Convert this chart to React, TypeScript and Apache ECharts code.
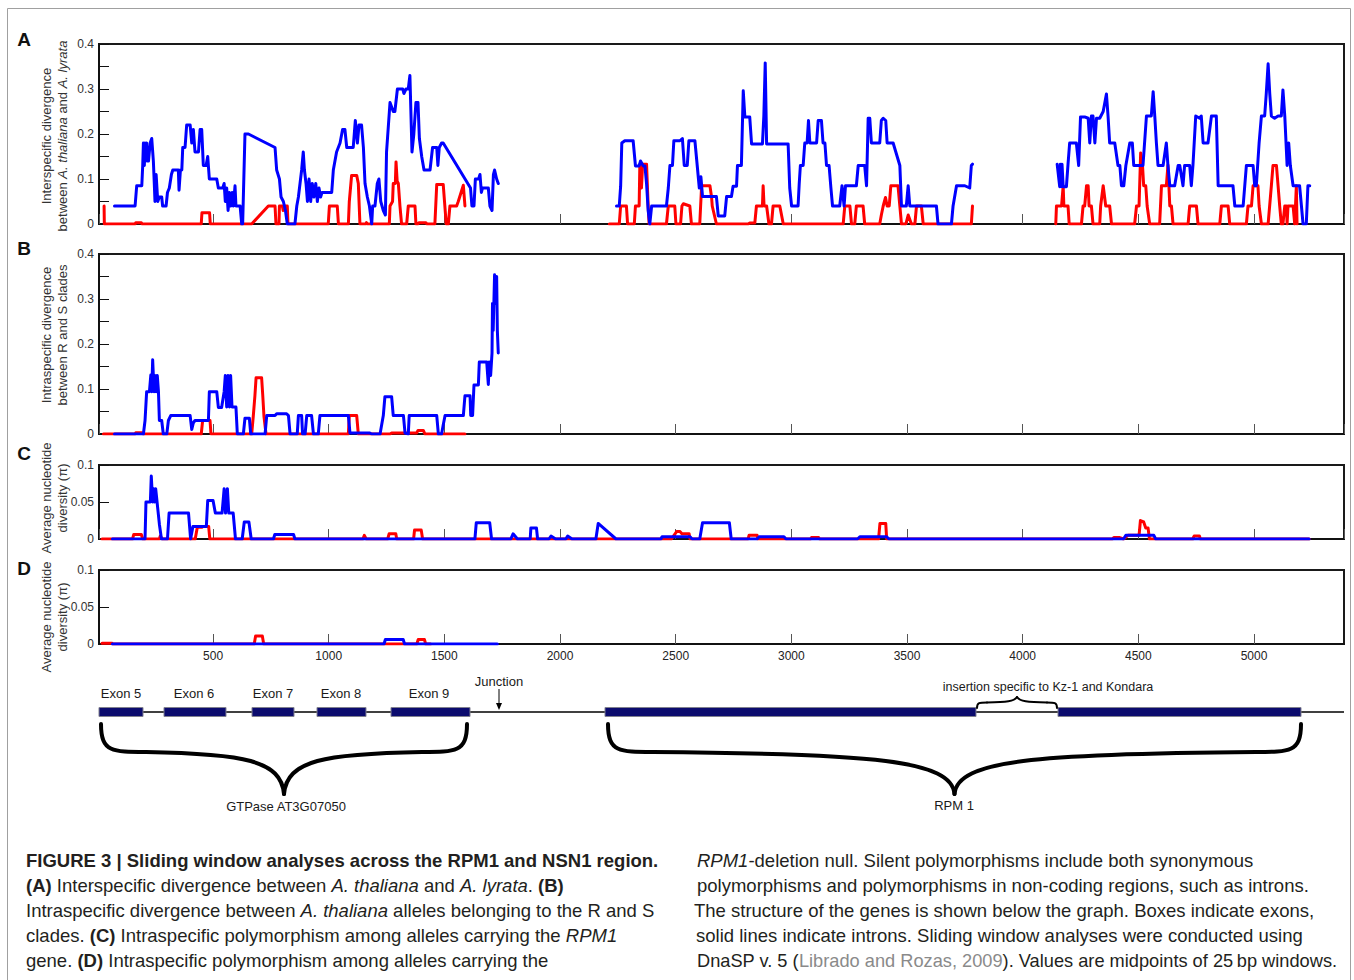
import React, { useEffect, useRef } from "react";
import * as echarts from "echarts";

// ---------- DATA ----------
const X_MIN = 7;
const X_MAX = 5389;
const xTickLabels = [500, 1000, 1500, 2000, 2500, 3000, 3500, 4000, 4500, 5000];
const yTickLabelsTall = ["0", "0.1", "0.2", "0.3", "0.4"];
const yTickLabelsShort = ["0", "0.05", "0.1"];

// Panel A: interspecific divergence (blue) and red series, three sequenced stretches
const aBlue1 = [[74,0.04],[163,0.04],[170,0.085],[192,0.085],[196,0.13],[199,0.18],[203,0.13],[206,0.18],[210,0.14],[213,0.18],[216,0.14],[221,0.14],[228,0.18],[235,0.19],[242,0.14],[246,0.09],[249,0.05],[254,0.11],[261,0.05],[268,0.06],[278,0.06],[282,0.04],[297,0.04],[303,0.07],[311,0.08],[320,0.11],[326,0.12],[350,0.12],[353,0.075],[359,0.12],[365,0.12],[369,0.17],[379,0.17],[386,0.22],[401,0.22],[408,0.18],[415,0.21],[422,0.16],[437,0.16],[444,0.21],[451,0.21],[458,0.13],[470,0.13],[477,0.15],[484,0.1],[516,0.1],[523,0.08],[542,0.08],[548,0.09],[553,0.05],[559,0.08],[565,0.03],[571,0.07],[576,0.04],[583,0.07],[588,0.04],[595,0.085],[599,0.04],[617,0.04],[624,0],[628,0],[638,0.2],[653,0.2],[768,0.17],[775,0.12],[787,0.1],[794,0.06],[804,0.05],[813,0.03],[821,0],[854,0],[862,0.04],[869,0.06],[876,0.09],[883,0.12],[890,0.16],[895,0.12],[902,0.09],[908,0.05],[915,0.1],[922,0.05],[929,0.09],[936,0.06],[944,0.09],[951,0.05],[958,0.08],[965,0.06],[971,0.07],[1013,0.07],[1020,0.12],[1034,0.16],[1049,0.18],[1060,0.21],[1070,0.21],[1078,0.17],[1106,0.17],[1115,0.23],[1124,0.18],[1131,0.22],[1142,0.22],[1150,0.17],[1157,0.09],[1167,0.06],[1176,0.04],[1181,0.02],[1186,0],[1190,0.04],[1200,0.04],[1210,0.09],[1217,0.1],[1225,0.05],[1236,0.03],[1245,0.02],[1250,0.16],[1265,0.27],[1279,0.25],[1286,0.25],[1297,0.3],[1320,0.3],[1325,0.29],[1334,0.3],[1344,0.3],[1351,0.33],[1360,0.16],[1368,0.2],[1377,0.27],[1386,0.27],[1392,0.19],[1402,0.15],[1412,0.12],[1438,0.12],[1449,0.17],[1467,0.17],[1472,0.13],[1478,0.17],[1488,0.18],[1495,0.18],[1613,0.08],[1619,0.04],[1628,0.04],[1634,0.1],[1648,0.1],[1654,0.11],[1660,0.07],[1665,0.08],[1690,0.08],[1697,0.04],[1706,0.03],[1712,0.11],[1717,0.12],[1726,0.1],[1733,0.09]];
const aBlue2 = [[2244,0.04],[2256,0.04],[2262,0.084],[2267,0.18],[2280,0.185],[2316,0.185],[2326,0.129],[2342,0.129],[2348,0.14],[2360,0.129],[2367,0.129],[2374,0.09],[2381,0.03],[2388,0],[2396,0.04],[2460,0.04],[2468,0.08],[2475,0.13],[2486,0.13],[2492,0.185],[2518,0.185],[2529,0.19],[2537,0.13],[2550,0.13],[2557,0.185],[2583,0.185],[2593,0.13],[2602,0.08],[2609,0.105],[2616,0.061],[2676,0.061],[2684,0.018],[2712,0.018],[2720,0.061],[2741,0.061],[2748,0.084],[2763,0.084],[2767,0.13],[2784,0.13],[2792,0.296],[2799,0.238],[2820,0.238],[2828,0.178],[2875,0.178],[2881,0.24],[2887,0.358],[2893,0.178],[2986,0.178],[2993,0.08],[3001,0.04],[3029,0.04],[3034,0.09],[3039,0.13],[3051,0.13],[3058,0.18],[3068,0.18],[3074,0.23],[3080,0.18],[3109,0.18],[3116,0.23],[3130,0.23],[3137,0.18],[3145,0.18],[3152,0.13],[3163,0.13],[3171,0.08],[3178,0.04],[3209,0.04],[3219,0.085],[3228,0.04],[3234,0.085],[3245,0.085],[3281,0.085],[3289,0.13],[3317,0.13],[3325,0.085],[3332,0.235],[3339,0.235],[3346,0.18],[3382,0.18],[3389,0.23],[3397,0.235],[3408,0.23],[3414,0.18],[3440,0.18],[3469,0.13],[3476,0.04],[3497,0.04],[3505,0.085],[3512,0.04],[3627,0.04],[3634,0],[3692,0],[3699,0.04],[3714,0.085],[3750,0.085],[3771,0.08],[3778,0.13],[3783,0.133]];
const aBlue3 = [[4149,0.133],[4160,0.083],[4163,0.133],[4166,0.083],[4170,0.133],[4175,0.083],[4189,0.083],[4196,0.133],[4203,0.18],[4232,0.18],[4242,0.13],[4250,0.238],[4268,0.238],[4283,0.235],[4290,0.18],[4297,0.24],[4304,0.24],[4312,0.18],[4319,0.235],[4333,0.235],[4348,0.25],[4362,0.289],[4369,0.24],[4376,0.18],[4398,0.18],[4412,0.13],[4420,0.13],[4427,0.085],[4437,0.085],[4446,0.13],[4463,0.18],[4474,0.18],[4480,0.13],[4520,0.13],[4535,0.24],[4556,0.24],[4564,0.294],[4571,0.24],[4578,0.18],[4585,0.13],[4607,0.13],[4621,0.18],[4628,0.13],[4636,0.085],[4657,0.085],[4672,0.13],[4679,0.13],[4693,0.085],[4700,0.13],[4722,0.13],[4729,0.085],[4736,0.13],[4748,0.24],[4765,0.235],[4772,0.24],[4780,0.18],[4801,0.18],[4816,0.24],[4837,0.24],[4845,0.085],[4909,0.085],[4917,0.04],[4953,0.04],[4967,0.13],[4996,0.13],[5003,0.085],[5010,0.085],[5022,0.18],[5032,0.24],[5046,0.24],[5053,0.29],[5061,0.356],[5068,0.29],[5075,0.24],[5089,0.235],[5104,0.24],[5118,0.24],[5125,0.298],[5133,0.24],[5143,0.13],[5150,0.18],[5157,0.13],[5169,0.085],[5197,0.085],[5205,0.04],[5212,0],[5226,0],[5233,0.085],[5241,0.085]];
const aRed1 = [[29,0.04],[30,0],[163,0],[166,0.003],[190,0.003],[193,0],[449,0],[452,0.025],[485,0.025],[488,0],[667,0],[739,0.04],[768,0.04],[772,0],[785,0],[787,0.04],[800,0.04],[803,0.03],[806,0.04],[821,0.04],[824,0],[998,0],[1003,0.04],[1037,0.04],[1042,0],[1085,0],[1089,0.05],[1099,0.108],[1121,0.108],[1128,0.09],[1135,0],[1160,0],[1163,0.003],[1168,0],[1262,0],[1265,0.04],[1276,0.05],[1279,0.09],[1288,0.09],[1291,0.138],[1296,0.095],[1301,0.09],[1308,0.04],[1315,0],[1337,0],[1344,0.04],[1373,0.04],[1377,0],[1386,0],[1390,0.003],[1420,0.003],[1424,0],[1459,0],[1467,0.088],[1495,0.088],[1508,0],[1517,0],[1524,0.04],[1553,0.04],[1560,0.05],[1582,0.086],[1589,0.04]];
const aRed2 = [[2213,0],[2256,0],[2262,0.04],[2287,0.04],[2292,0],[2321,0],[2326,0.04],[2342,0.04],[2345,0.133],[2352,0.08],[2357,0.133],[2374,0.133],[2381,0.04],[2385,0],[2460,0],[2468,0.04],[2496,0.04],[2501,0],[2521,0],[2527,0.04],[2533,0.045],[2561,0.04],[2568,0],[2604,0],[2612,0.085],[2648,0.085],[2655,0.06],[2658,0.04],[2676,0],[2813,0],[2820,0.002],[2842,0.002],[2849,0.04],[2875,0.04],[2878,0.085],[2882,0.04],[2893,0.04],[2903,0],[2914,0],[2921,0.04],[2950,0.04],[2965,0],[3224,0],[3231,0.04],[3253,0.04],[3260,0],[3274,0],[3281,0.04],[3310,0.04],[3317,0],[3382,0],[3389,0.02],[3397,0.04],[3407,0.059],[3414,0.04],[3423,0.04],[3430,0.085],[3461,0.085],[3469,0.04],[3476,0],[3495,0],[3505,0.02],[3519,0],[3534,0],[3541,0.04],[3562,0.04],[3570,0],[3778,0],[3783,0.04]];
const aRed3 = [[4143,0],[4146,0.04],[4168,0.04],[4175,0.085],[4178,0.04],[4196,0.04],[4201,0],[4254,0],[4261,0.04],[4268,0.04],[4276,0.085],[4283,0.085],[4287,0.04],[4297,0.04],[4304,0],[4333,0],[4337,0.04],[4348,0.085],[4359,0.04],[4376,0.04],[4384,0],[4484,0],[4492,0.04],[4503,0.04],[4510,0.158],[4518,0.13],[4523,0.085],[4532,0.085],[4538,0.04],[4549,0],[4592,0],[4600,0.085],[4621,0.085],[4628,0.131],[4636,0.04],[4643,0.04],[4650,0],[4715,0],[4722,0.04],[4751,0.04],[4758,0],[4852,0],[4859,0.04],[4888,0.04],[4895,0],[4967,0],[4974,0.04],[4989,0.04],[4996,0.085],[5017,0.085],[5022,0.04],[5032,0],[5061,0],[5075,0.085],[5082,0.13],[5097,0.13],[5104,0.085],[5111,0.04],[5118,0],[5125,0],[5133,0.04],[5140,0.04],[5143,0],[5147,0.04],[5169,0.04],[5176,0],[5183,0.085],[5186,0]];

// Panel B: intraspecific divergence between R and S clades
const bBlue = [[74,0],[199,0],[206,0.03],[213,0.094],[225,0.094],[231,0.131],[235,0.094],[239,0.165],[245,0.094],[249,0.13],[254,0.094],[259,0.13],[264,0.094],[268,0.03],[278,0.03],[285,0],[300,0],[307,0.03],[317,0.041],[401,0.041],[408,0.01],[415,0.025],[422,0.03],[480,0.03],[484,0.094],[516,0.094],[523,0.059],[537,0.059],[548,0.094],[553,0.13],[559,0.06],[565,0.13],[571,0.06],[576,0.13],[582,0.06],[599,0.06],[605,0],[631,0],[638,0.035],[657,0.035],[663,0],[725,0],[732,0.041],[768,0.041],[775,0.045],[818,0.045],[826,0.041],[833,0],[864,0],[869,0.041],[883,0.041],[887,0],[898,0],[905,0.041],[926,0.041],[934,0],[955,0],[962,0.041],[1085,0.041],[1092,0.002],[1178,0.002],[1186,0],[1222,0],[1236,0.041],[1243,0.083],[1272,0.083],[1279,0.041],[1323,0.041],[1330,0.002],[1344,0],[1348,0.041],[1467,0.041],[1474,0],[1488,0],[1495,0.02],[1503,0.041],[1582,0.041],[1589,0.085],[1611,0.085],[1614,0.041],[1622,0.041],[1628,0.109],[1647,0.109],[1651,0.16],[1683,0.16],[1690,0.11],[1694,0.16],[1700,0.13],[1706,0.18],[1708,0.29],[1711,0.23],[1717,0.354],[1723,0.29],[1726,0.35],[1729,0.23],[1733,0.18]];
const bRed = [[26,0],[163,0],[166,0.003],[192,0.003],[199,0],[449,0],[455,0.03],[487,0.03],[491,0],[667,0],[674,0.04],[681,0.085],[686,0.125],[710,0.125],[715,0.085],[720,0.04],[729,0],[1085,0],[1089,0.041],[1121,0.041],[1128,0],[1265,0],[1272,0.002],[1294,0.002],[1380,0.002],[1386,0.008],[1409,0.008],[1416,0],[1589,0]];

// Panel C: average nucleotide diversity, RPM1 alleles
const cBlue = [[65,0],[206,0],[210,0.05],[229,0.05],[233,0.085],[239,0.05],[243,0.068],[248,0.05],[252,0.068],[258,0.05],[268,0.02],[277,0],[303,0],[310,0.035],[394,0.035],[403,0],[413,0.017],[471,0.017],[477,0.052],[500,0.052],[510,0.035],[539,0.035],[548,0.068],[554,0.035],[562,0.068],[568,0.035],[587,0.035],[597,0],[626,0],[635,0.023],[655,0.023],[665,0],[761,0],[767,0.006],[848,0.006],[854,0],[1632,0],[1638,0.022],[1696,0.022],[1704,0],[1787,0],[1797,0.007],[1816,0],[1871,0],[1874,0.015],[1898,0.015],[1903,0],[1952,0],[1961,0.004],[1981,0],[2025,0],[2033,0.004],[2052,0],[2155,0],[2165,0.021],[2242,0],[2436,0],[2441,0.003],[2562,0.003],[2571,0],[2604,0],[2616,0.022],[2732,0.022],[2740,0],[2852,0],[2861,0.003],[2968,0.003],[2977,0],[3286,0],[3296,0.003],[3412,0.003],[3422,0],[4436,0],[4446,0.005],[4567,0.005],[4575,0],[5238,0]];
const cRed = [[20,0],[152,0],[157,0.006],[190,0.006],[196,0],[268,0],[272,0.004],[280,0],[423,0],[432,0.016],[452,0.016],[457,0.017],[481,0.017],[486,0],[1148,0],[1154,0.005],[1162,0],[1255,0],[1261,0.007],[1290,0.007],[1294,0],[1367,0],[1371,0.012],[1400,0.012],[1406,0],[2481,0],[2488,0.003],[2504,0.01],[2519,0.01],[2527,0.007],[2558,0.007],[2562,0],[2813,0],[2817,0.005],[2852,0.005],[2855,0],[3083,0],[3087,0.002],[3118,0.002],[3122,0],[3377,0],[3383,0.021],[3408,0.021],[3412,0],[4388,0],[4394,0.002],[4417,0.002],[4436,0],[4455,0.005],[4503,0.005],[4509,0.025],[4523,0.023],[4532,0.015],[4542,0.015],[4548,0],[4735,0],[4741,0.004],[4764,0.004],[4768,0],[5238,0]];

// Panel D: average nucleotide diversity, RPM1-deletion null alleles
const dBlue = [[65,0],[1239,0],[1245,0.006],[1322,0.006],[1328,0],[1729,0]];
const dRed = [[20,0.001],[64,0.001],[66,0],[678,0],[684,0.0107],[713,0.0107],[719,0],[1381,0],[1387,0.006],[1414,0.006],[1419,0],[1440,0]];

// Texts
const panelLetters = ["A", "B", "C", "D"];
const yNames = [
  ["Interspecific divergence", "between {i|A. thaliana} and {i|A. lyrata}"],
  ["Intraspecific divergence", "between R and S clades"],
  ["Average nucleotide", "diversity (\u03c0)"],
  ["Average nucleotide", "diversity (\u03c0)"],
];
const exonNames = ["Exon 5", "Exon 6", "Exon 7", "Exon 8", "Exon 9"];
const junctionLabel = "Junction";
const insertionLabel = "insertion specific to Kz-1 and Kondara";
const geneNames = ["GTPase AT3G07050", "RPM 1"];
const captionLeft = [
  "{b|FIGURE 3 | Sliding window analyses across the RPM1 and NSN1 region.}",
  "{b|(A)} Interspecific divergence between {i|A. thaliana} and {i|A. lyrata}. {b|(B)}",
  "Intraspecific divergence between {i|A. thaliana} alleles belonging to the R and S",
  "clades. {b|(C)} Intraspecific polymorphism among alleles carrying the {i|RPM1}",
  "gene. {b|(D)} Intraspecific polymorphism among alleles carrying the",
];
const captionRight = [
  "{i|RPM1}-deletion null. Silent polymorphisms include both synonymous",
  "polymorphisms and polymorphisms in non-coding regions, such as introns.",
  "The structure of the genes is shown below the graph. Boxes indicate exons,",
  "solid lines indicate introns. Sliding window analyses were conducted using",
  "DnaSP v. 5 ({g|Librado and Rozas, 2009}). Values are midpoints of 25\u2009bp windows.",
];

// ---------- STYLE / LAYOUT ----------
const FONT = "'Liberation Sans', Arial, Helvetica, sans-serif";
const BLUE = "#0000ff";
const RED = "#ff0000";
const GRID_LEFT = 99;
const GRID_W = 1245;
const gridBoxes = [
  { top: 44, height: 180 },
  { top: 254, height: 180 },
  { top: 465, height: 74 },
  { top: 570, height: 74 },
];
const yMaxes = [0.4, 0.4, 0.1, 0.1];

function richFor(size: number, color: string) {
  return {
    i: { fontStyle: "italic", fontSize: size, fontFamily: FONT, fill: color, color },
    b: { fontWeight: "bold", fontSize: size, fontFamily: FONT, fill: color, color },
    g: { fontSize: size, fontFamily: FONT, fill: "#8a8a8a", color: "#8a8a8a" },
  };
}

function text(x: number, y: number, str: string, o: any = {}) {
  const size = o.size || 13;
  const color = o.fill || "#1a1a1a";
  return {
    type: "text",
    x,
    y,
    rotation: o.rot || 0,
    scaleX: o.sx || 1,
    silent: true,
    z: 10,
    style: {
      text: str,
      fill: color,
      fontSize: size,
      fontFamily: FONT,
      fontWeight: o.weight || "normal",
      align: o.align || "center",
      verticalAlign: "middle",
      rich: richFor(size, color),
    },
  };
}

function brace(x1: number, x2: number, yTop: number, yMid: number, yTip: number, lw: number, hook: number, pull: number) {
  const xm = (x1 + x2) / 2;
  const style = { stroke: "#000", lineWidth: lw, fill: "none", lineCap: "round" };
  const half = (sx: number, dir: number) => [
    {
      type: "bezierCurve",
      silent: true,
      z: 5,
      shape: { x1: sx, y1: yTop, cpx1: sx, cpy1: yMid, cpx2: sx + dir * hook * 0.25, cpy2: yMid, x2: sx + dir * hook, y2: yMid },
      style,
    },
    {
      type: "bezierCurve",
      silent: true,
      z: 5,
      shape: {
        x1: sx + dir * hook,
        y1: yMid,
        cpx1: xm - dir * pull,
        cpy1: yMid + (yTip - yMid) * 0.04,
        cpx2: xm - dir * 3,
        cpy2: yMid + (yTip - yMid) * 0.2,
        x2: xm,
        y2: yTip,
      },
      style,
    },
  ];
  return [...half(x1, 1), ...half(x2, -1)];
}

function buildOption() {
  const grid = gridBoxes.map((g) => ({
    left: GRID_LEFT,
    width: GRID_W,
    top: g.top,
    height: g.height,
    show: true,
    borderColor: "#1a1a1a",
    borderWidth: 2,
    backgroundColor: "transparent",
  }));

  const xAxis = gridBoxes.map((_, i) => ({
    type: "value",
    gridIndex: i,
    min: X_MIN,
    max: X_MAX,
    splitNumber: 10,
    axisLine: { show: true, onZero: false, lineStyle: { color: "#111", width: 2 } },
    axisTick: { show: true, inside: true, length: 10, lineStyle: { color: "#555", width: 1 } },
    axisLabel: {
      show: i === 3,
      margin: 6,
      color: "#222",
      fontSize: 12,
      fontFamily: FONT,
      showMinLabel: false,
      showMaxLabel: false,
      formatter: (v: number) => (xTickLabels.indexOf(v) >= 0 ? String(v) : ""),
    },
    splitLine: { show: false },
  }));

  const yAxis = gridBoxes.map((_, i) => ({
    type: "value",
    gridIndex: i,
    min: 0,
    max: yMaxes[i],
    interval: 0.05,
    axisLine: { show: true, onZero: false, lineStyle: { color: "#111", width: 2 } },
    axisTick: { show: true, inside: true, length: 10, lineStyle: { color: "#111", width: 1 } },
    axisLabel: {
      margin: 5,
      color: "#333",
      fontSize: 12,
      fontFamily: FONT,
      formatter: (v: number) => {
        const k = Math.round(v * 20);
        if (i < 2) return k % 2 === 0 ? yTickLabelsTall[k / 2] : "";
        return yTickLabelsShort[k] ?? "";
      },
    },
    splitLine: { show: false },
  }));

  const mk = (data: number[][], color: string, idx: number, z: number) => ({
    type: "line",
    xAxisIndex: idx,
    yAxisIndex: idx,
    data,
    symbol: "none",
    showSymbol: false,
    silent: true,
    z,
    lineStyle: { color, width: 3, join: "round", cap: "round" },
    itemStyle: { color },
  });

  const series = [
    mk(aRed1, RED, 0, 2), mk(aRed2, RED, 0, 2), mk(aRed3, RED, 0, 2),
    mk(aBlue1, BLUE, 0, 3), mk(aBlue2, BLUE, 0, 3), mk(aBlue3, BLUE, 0, 3),
    mk(bRed, RED, 1, 2), mk(bBlue, BLUE, 1, 3),
    mk(cRed, RED, 2, 2), mk(cBlue, BLUE, 2, 3),
    mk(dRed, RED, 3, 2), mk(dBlue, BLUE, 3, 3),
  ];

  const graphic: any[] = [];
  // outer frame
  graphic.push({ type: "rect", silent: true, z: 0, shape: { x: 7.5, y: 8.5, width: 1343, height: 990 }, style: { fill: "none", stroke: "#a0a0a0", lineWidth: 1 } });

  // panel letters
  const letterY = [39, 248, 453, 568];
  panelLetters.forEach((l, i) => graphic.push(text(24, letterY[i], l, { size: 19, weight: "bold", fill: "#111" })));

  // y axis names (rotated)
  const nameY = [136, 335, 498, 617];
  yNames.forEach((pair, i) => {
    graphic.push(text(46, nameY[i], pair[0], { size: 13, rot: Math.PI / 2, fill: "#333" }));
    graphic.push(text(62, nameY[i], pair[1], { size: 13, rot: Math.PI / 2, fill: "#333" }));
  });

  // gene structure
  graphic.push({ type: "line", silent: true, z: 4, shape: { x1: 99, y1: 712, x2: 1344, y2: 712 }, style: { stroke: "#000", lineWidth: 1.5 } });
  const exonBoxes = [[99, 143], [164, 226], [252, 294], [317, 366], [391, 470], [605, 976], [1058, 1301]];
  exonBoxes.forEach(([a, b]) =>
    graphic.push({ type: "rect", silent: true, z: 5, shape: { x: a, y: 707.5, width: b - a, height: 9 }, style: { fill: "#0b0b6e", stroke: "#80808f", lineWidth: 1 } })
  );
  const exonLabelX = [121, 194, 273, 341, 429];
  exonNames.forEach((n, i) => graphic.push(text(exonLabelX[i], 693, n, { size: 13 })));
  graphic.push(text(499, 681, junctionLabel, { size: 13 }));
  graphic.push({ type: "line", silent: true, z: 5, shape: { x1: 499, y1: 689, x2: 499, y2: 705 }, style: { stroke: "#000", lineWidth: 1 } });
  graphic.push({ type: "polygon", silent: true, z: 5, shape: { points: [[496, 703], [502, 703], [499, 710]] }, style: { fill: "#000" } });
  graphic.push(text(1048, 687, insertionLabel, { size: 12.5 }));
  brace(977, 1057, 708, 702.5, 697, 2, 10, 10).forEach((e) => graphic.push(e));
  brace(101, 467, 724, 752, 794, 4, 45, 40).forEach((e) => graphic.push(e));
  brace(608, 1301, 724, 752, 794, 4, 45, 80).forEach((e) => graphic.push(e));
  graphic.push(text(286, 806, geneNames[0], { size: 13 }));
  graphic.push(text(954, 805, geneNames[1], { size: 13 }));

  // caption
  captionLeft.forEach((t, k) => graphic.push(text(26, 860 + 25 * k, t, { size: 18.5, align: "left", fill: "#231f20" })));
  const rightX = [697, 697, 694, 696, 697];
  const rightSx = [1, 1, 1, 1, 0.985];
  captionRight.forEach((t, k) => graphic.push(text(rightX[k], 860 + 25 * k, t, { size: 18.5, align: "left", fill: "#231f20", sx: rightSx[k] })));

  return {
    animation: false,
    backgroundColor: "#ffffff",
    grid,
    xAxis,
    yAxis,
    series,
    graphic,
  };
}

export default function App() {
  const ref = useRef<HTMLDivElement>(null);
  useEffect(() => {
    if (!ref.current) return;
    const chart = echarts.init(ref.current, null, { renderer: "svg" });
    chart.setOption(buildOption() as any);
    return () => chart.dispose();
  }, []);
  return (
    <div
      ref={ref}
      style={{ position: "absolute", left: 0, top: 0, width: 1354, height: 980, background: "#fff" }}
    />
  );
}
